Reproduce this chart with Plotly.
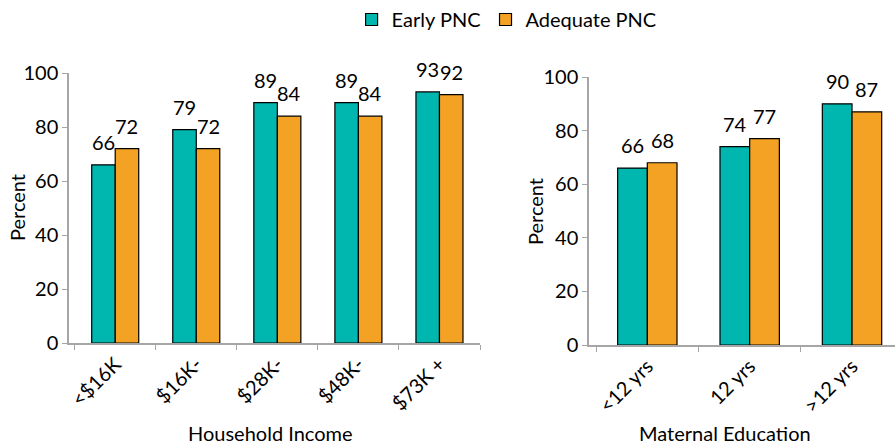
import plotly.graph_objects as go

income_cats = ["<$16K", "$16K-", "$28K-", "$48K-", "$73K +"]
income_early = [66, 79, 89, 89, 93]
income_adequate = [72, 72, 84, 84, 92]

edu_cats = ["<12 yrs", "12 yrs", ">12 yrs"]
edu_early = [66, 74, 90]
edu_adequate = [68, 77, 87]

series_names = ["Early PNC", "Adequate PNC"]
colors = ["#00B7B0", "#F4A223"]
FONT = "Lato"
FS = 20
BARGAP = 0.42

# pixel geometry of the two panels
W, H = 895, 446
L_X0, L_X1, L_RANGE = 69, 480, [-0.57, 4.5]
R_X0, R_X1, R_RANGE = 589, 895, [-0.57, 2.42]

fig = go.Figure()

def add_bars(cats, vals, name, color, xa, ya, show):
    fig.add_trace(go.Bar(
        x=cats, y=vals, name=name, legendgroup=name, showlegend=show,
        marker=dict(color=color, line=dict(color="black", width=1.2)),
        xaxis=xa, yaxis=ya,
    ))

add_bars(income_cats, income_early, series_names[0], colors[0], "x", "y", True)
add_bars(income_cats, income_adequate, series_names[1], colors[1], "x", "y", True)
add_bars(edu_cats, edu_early, series_names[0], colors[0], "x2", "y2", False)
add_bars(edu_cats, edu_adequate, series_names[1], colors[1], "x2", "y2", False)

def label_annots(cats, series, xref, yref, px0, px1, rng):
    cat_px = (px1 - px0) / (rng[1] - rng[0])
    bar_px = cat_px * (1 - BARGAP) / len(series)
    out = []
    for si, vals in enumerate(series):
        off = (si - (len(series) - 1) / 2) * bar_px
        for c, v in zip(cats, vals):
            out.append(dict(text=str(v), x=c, y=v, xref=xref, yref=yref,
                            xshift=off, yshift=9, yanchor="bottom",
                            showarrow=False,
                            font=dict(family=FONT, size=FS, color="black")))
    return out

annots = []
annots += label_annots(income_cats, [income_early, income_adequate], "x", "y",
                       L_X0, L_X1, L_RANGE)
annots += label_annots(edu_cats, [edu_early, edu_adequate], "x2", "y2",
                       R_X0, R_X1, R_RANGE)
annots += [
    dict(text="Household Income", x=270/W, y=1-433/H, xref="paper", yref="paper",
         xanchor="center", yanchor="middle", showarrow=False,
         font=dict(family=FONT, size=FS)),
    dict(text="Maternal Education", x=725/W, y=1-433/H, xref="paper", yref="paper",
         xanchor="center", yanchor="middle", showarrow=False,
         font=dict(family=FONT, size=FS)),
    dict(text="Percent", x=17/W, y=1-208/H, xref="paper", yref="paper",
         xanchor="center", yanchor="middle", textangle=-90, showarrow=False,
         font=dict(family=FONT, size=FS)),
    dict(text="Percent", x=535/W, y=1-212/H, xref="paper", yref="paper",
         xanchor="center", yanchor="middle", textangle=-90, showarrow=False,
         font=dict(family=FONT, size=FS)),
]

axis_common = dict(showline=True, linecolor="#A6A6A6", linewidth=1.5,
                   ticks="outside", tickcolor="#A6A6A6", ticklen=5,
                   tickfont=dict(family=FONT, size=FS, color="black"),
                   showgrid=False, zeroline=False, fixedrange=True,
                   automargin=False)

fig.update_layout(
    width=W, height=H,
    margin=dict(l=0, r=0, t=0, b=0, autoexpand=False),
    paper_bgcolor="white", plot_bgcolor="white",
    barmode="group", bargap=BARGAP, bargroupgap=0,
    font=dict(family=FONT, size=FS, color="black"),
    showlegend=True,
    legend=dict(orientation="h", x=0.566, y=1.0, xanchor="center", yanchor="top",
                font=dict(family=FONT, size=FS), itemwidth=30,
                traceorder="normal"),
    xaxis=dict(domain=[L_X0/W, L_X1/W], range=L_RANGE, tickangle=-45,
               tickson="boundaries", anchor="y", **axis_common),
    yaxis=dict(domain=[(H-343)/H, (H-73)/H], range=[0, 100], dtick=20,
               anchor="x", **axis_common),
    xaxis2=dict(domain=[R_X0/W, R_X1/W], range=R_RANGE, tickangle=-45,
                tickson="boundaries", anchor="y2", **axis_common),
    yaxis2=dict(domain=[(H-345)/H, (H-77)/H], range=[0, 100], dtick=20,
                anchor="x2", **axis_common),
    annotations=annots,
)

fig.write_html("out.html", config={"displayModeBar": False},
               post_script="document.body.style.margin='0';document.body.style.padding='0';")
